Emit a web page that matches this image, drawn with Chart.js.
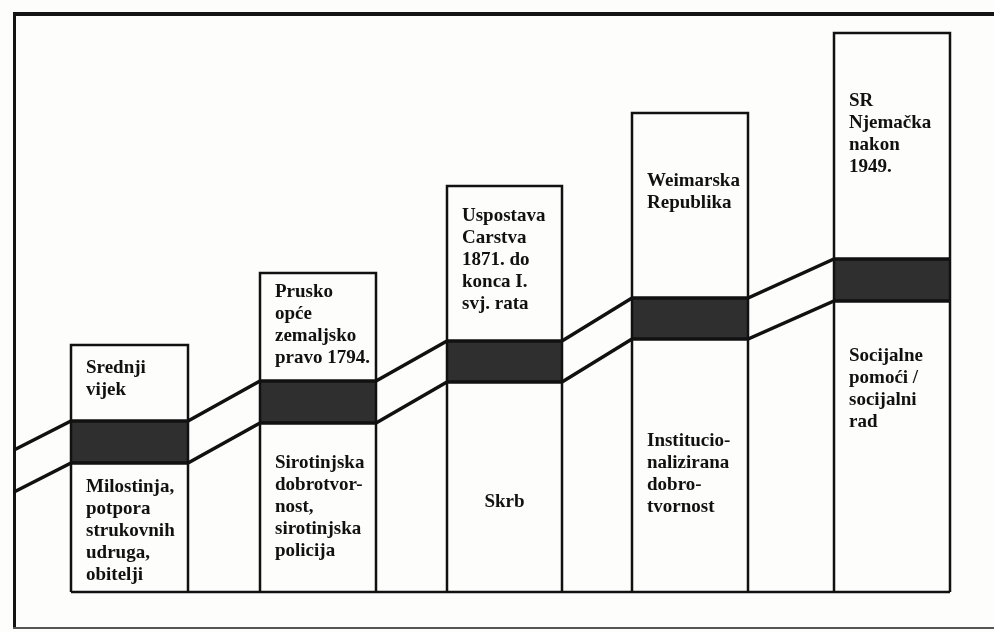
<!DOCTYPE html>
<html>
<head>
<meta charset="utf-8">
<script src="https://cdn.jsdelivr.net/npm/chart.js@4.4.1/dist/chart.umd.min.js"></script>
<style>
  html, body { margin: 0; padding: 0; background: #fdfdfc; }
  #wrap { width: 994px; height: 632px; }
</style>
</head>
<body>
<div id="wrap"><canvas id="stairs" width="994" height="632"></canvas></div>
<script>
// Stages, left to right (x in diagram units, y = height above the baseline)
const upperLabels = [
  ['Srednji', 'vijek'],
  ['Prusko', 'opće', 'zemaljsko', 'pravo 1794.'],
  ['Uspostava', 'Carstva', '1871. do', 'konca I.', 'svj. rata'],
  ['Weimarska', 'Republika'],
  ['SR', 'Njemačka', 'nakon', '1949.']
];
const lowerLabels = [
  ['Milostinja,', 'potpora', 'strukovnih', 'udruga,', 'obitelji'],
  ['Sirotinjska', 'dobrotvor-', 'nost,', 'sirotinjska', 'policija'],
  ['Skrb'],
  ['Institucio-', 'nalizirana', 'dobro-', 'tvornost'],
  ['Socijalne', 'pomoći /', 'socijalni', 'rad']
];
const colStart = [71, 260, 447, 632, 834];
const colEnd = [188, 376, 562, 748, 950];
const colTop = [247, 319, 406, 479, 559];
const bandTop = [171, 211, 251, 294, 333];
const bandBottom = [129, 169, 210, 253, 291];
const railStart = [14, 142, 100]; // x, upper rail y, lower rail y
const upperTextY = [224, 300, 376, 411, 491];
const lowerTextY = [105, 129, 90, 151, 236];
const lowerAlign = ['left', 'left', 'center', 'left', 'left'];

const INK = '#111';
const datasets = [];

// dark bands
colStart.forEach((x0, i) => {
  datasets.push({
    data: [{ x: x0, y: bandTop[i] }, { x: colEnd[i], y: bandTop[i] }],
    borderWidth: 0,
    backgroundColor: '#2f2f2f',
    fill: { value: bandBottom[i] },
    order: 3
  });
});

// rails through the band edges
function rail(startY, levels) {
  const pts = [{ x: railStart[0], y: startY }];
  colStart.forEach((x0, i) => {
    pts.push({ x: x0, y: levels[i] });
    pts.push({ x: colEnd[i], y: levels[i] });
  });
  return pts;
}
datasets.push({ data: rail(railStart[1], bandTop), borderColor: INK, borderWidth: 3.5, fill: false, order: 2 });
datasets.push({ data: rail(railStart[2], bandBottom), borderColor: INK, borderWidth: 3.5, fill: false, order: 2 });

// column outlines
colStart.forEach((x0, i) => {
  datasets.push({
    data: [{ x: x0, y: 0 }, { x: x0, y: colTop[i] }, { x: colEnd[i], y: colTop[i] }, { x: colEnd[i], y: 0 }],
    borderColor: INK,
    borderWidth: 2.5,
    fill: false,
    order: 1
  });
});

// baseline
datasets.push({
  data: [{ x: colStart[0], y: 0 }, { x: colEnd[colEnd.length - 1], y: 0 }],
  borderColor: INK,
  borderWidth: 2.5,
  fill: false,
  order: 1
});

const framePlugin = {
  id: 'frame',
  beforeDraw(chart) {
    const c = chart.ctx;
    const w = chart.width, h = chart.height;
    c.save();
    c.strokeStyle = '#141414';
    c.lineWidth = 4;
    c.beginPath();
    c.moveTo(14, 14); c.lineTo(w, 14);
    c.stroke();
    c.lineWidth = 3;
    c.beginPath();
    c.moveTo(14.5, 12); c.lineTo(14.5, h - 3);
    c.stroke();
    c.strokeStyle = '#555';
    c.lineWidth = 2;
    c.beginPath();
    c.moveTo(13, h - 4); c.lineTo(w, h - 4);
    c.stroke();
    c.restore();
  }
};

const labelPlugin = {
  id: 'stageLabels',
  afterDatasetsDraw(chart) {
    const c = chart.ctx;
    const xs = chart.scales.x, ys = chart.scales.y;
    const lh = 22;
    c.save();
    c.fillStyle = '#111';
    c.font = 'bold 19px "Liberation Serif", serif';
    c.textBaseline = 'middle';
    upperLabels.forEach((lines, i) => {
      const x = xs.getPixelForValue(colStart[i]) + 15;
      const y = ys.getPixelForValue(upperTextY[i]);
      c.textAlign = 'left';
      lines.forEach((t, k) => c.fillText(t, x, y + k * lh));
    });
    lowerLabels.forEach((lines, i) => {
      let x = xs.getPixelForValue(colStart[i]) + 15;
      if (lowerAlign[i] === 'center') {
        x = (xs.getPixelForValue(colStart[i]) + xs.getPixelForValue(colEnd[i])) / 2;
      }
      const y = ys.getPixelForValue(lowerTextY[i]);
      c.textAlign = lowerAlign[i];
      lines.forEach((t, k) => c.fillText(t, x, y + k * lh));
    });
    c.restore();
  }
};

new Chart(document.getElementById('stairs'), {
  type: 'line',
  data: { datasets: datasets },
  options: {
    responsive: false,
    animation: false,
    layout: { padding: 0 },
    elements: { point: { radius: 0, hoverRadius: 0 }, line: { tension: 0, borderCapStyle: 'butt', borderJoinStyle: 'miter' } },
    plugins: { legend: { display: false }, tooltip: { enabled: false } },
    events: [],
    scales: {
      x: { type: 'linear', min: 0, max: 994, display: false },
      y: { type: 'linear', min: -40, max: 592, display: false }
    }
  },
  plugins: [framePlugin, labelPlugin]
});
</script>
</body>
</html>
